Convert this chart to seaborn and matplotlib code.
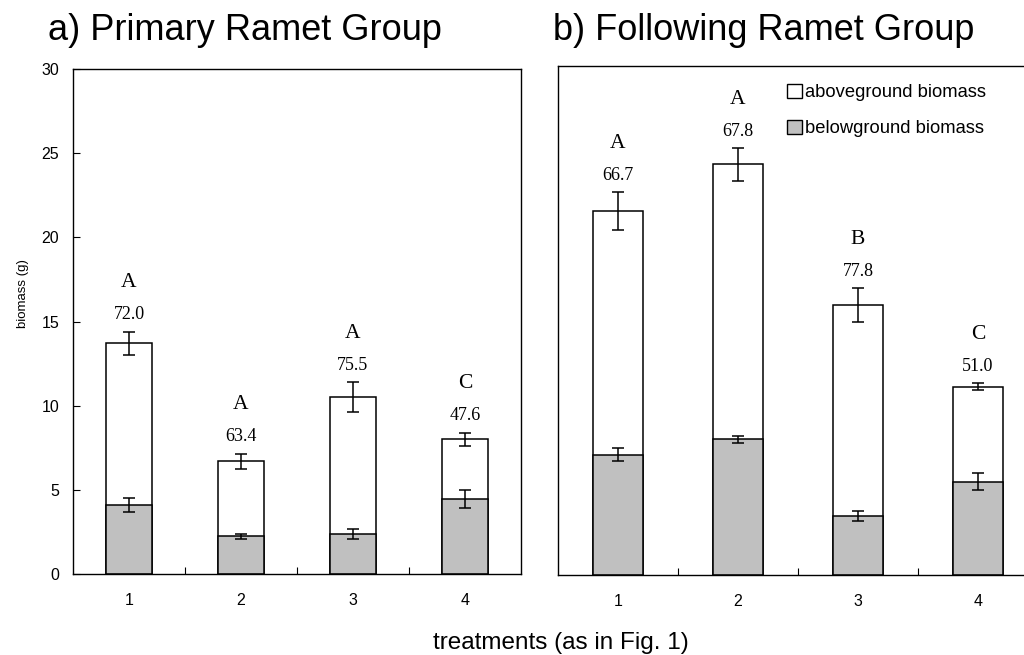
"""Stacked above/belowground biomass per treatment for primary and following ramet groups."""

import matplotlib.pyplot as plt
import pandas as pd
import seaborn as sns
from matplotlib.patches import Patch
from matplotlib.ticker import FixedLocator


treatments = ["1", "2", "3", "4"]

primary_total = [13.7, 6.7, 10.5, 8.0]
primary_total_se = [0.7, 0.45, 0.9, 0.4]
primary_below = [4.1, 2.25, 2.35, 4.45]
primary_below_se = [0.4, 0.15, 0.3, 0.55]
primary_pct = ["72.0", "63.4", "75.5", "47.6"]
primary_letters = ["A", "A", "A", "C"]

following_total = [21.45, 24.2, 15.9, 11.1]
following_total_se = [1.1, 0.95, 1.0, 0.2]
following_below = [7.1, 8.0, 3.5, 5.5]
following_below_se = [0.4, 0.2, 0.3, 0.5]
following_pct = ["66.7", "67.8", "77.8", "51.0"]
following_letters = ["A", "A", "B", "C"]

GREY = "#C0C0C0"
SANS = ["Liberation Sans", "DejaVu Sans"]
SERIF = ["Liberation Serif", "DejaVu Serif"]


def draw_panel(ax, total, total_se, below, below_se, pct, letters):
    df = pd.DataFrame({"treatment": treatments, "total": total, "below": below})
    sns.barplot(data=df, x="treatment", y="total", color="white", saturation=1,
                edgecolor="black", linewidth=1.1, width=0.41, errorbar=None, ax=ax)
    sns.barplot(data=df, x="treatment", y="below", color=GREY, saturation=1,
                edgecolor="black", linewidth=1.1, width=0.41, errorbar=None, ax=ax)
    xs = list(range(len(treatments)))
    err_kw = dict(fmt="none", ecolor="black", elinewidth=1.1, capsize=4.5, capthick=1.1, zorder=5)
    ax.errorbar(xs, total, yerr=total_se, **err_kw)
    ax.errorbar(xs, below, yerr=below_se, **err_kw)

    for x, t, se, p, let in zip(xs, total, total_se, pct, letters):
        top = t + se
        ax.text(x, top + 1.0, p, ha="center", va="center", fontsize=13, family=SERIF)
        ax.text(x, top + 2.9, let, ha="center", va="center", fontsize=15.5, family=SERIF)

    ax.set_xlim(-0.5, 3.5)
    ax.set_ylim(0, 30)
    ax.set_xlabel("")
    ax.set_ylabel("")
    ax.xaxis.set_minor_locator(FixedLocator([0.5, 1.5, 2.5]))
    ax.tick_params(axis="x", which="major", length=0, pad=14, labelsize=11.5)
    ax.tick_params(axis="x", which="minor", direction="in", length=5, width=0.8)
    for spine in ax.spines.values():
        spine.set_linewidth(1.0)
        spine.set_visible(True)


sns.set_style("ticks")
plt.rcParams["font.family"] = SANS
for key in ["text.color", "axes.labelcolor", "xtick.color", "ytick.color", "axes.edgecolor"]:
    plt.rcParams[key] = "black"

fig = plt.figure(figsize=(10.24, 6.55), dpi=100)
ax_a = fig.add_axes([73 / 1024, 81 / 655, 448 / 1024, 505 / 655])
ax_b = fig.add_axes([558 / 1024, 80 / 655, 480 / 1024, 509 / 655])

draw_panel(ax_a, primary_total, primary_total_se, primary_below, primary_below_se,
           primary_pct, primary_letters)
draw_panel(ax_b, following_total, following_total_se, following_below, following_below_se,
           following_pct, following_letters)

ax_a.set_yticks(range(0, 31, 5))
ax_a.tick_params(axis="y", direction="in", length=5, width=0.8, pad=10, labelsize=11.5)
ax_b.set_yticks([])

handles = [
    Patch(facecolor="white", edgecolor="black", linewidth=1.0, label="aboveground biomass"),
    Patch(facecolor=GREY, edgecolor="black", linewidth=1.0, label="belowground biomass"),
]
ax_b.legend(handles=handles, loc="upper left", bbox_to_anchor=(0.45, 0.99), frameon=False,
            fontsize=13.2, handlelength=0.8, handleheight=0.8, handletextpad=0.2,
            labelspacing=1.0, borderaxespad=0.3)

fig.text(48 / 1024, 1 - 30 / 655, "a) Primary Ramet Group", fontsize=26, va="center", ha="left")
fig.text(553 / 1024, 1 - 30 / 655, "b) Following Ramet Group", fontsize=26, va="center", ha="left")
fig.text(23 / 1024, 1 - 294 / 655, "biomass (g)", fontsize=9.5, rotation=90, ha="center", va="center")
fig.text(561 / 1024, 1 - 643 / 655, "treatments (as in Fig. 1)", fontsize=17.5, ha="center", va="center")

fig.savefig("out.png", dpi=100)
plt.close(fig)
